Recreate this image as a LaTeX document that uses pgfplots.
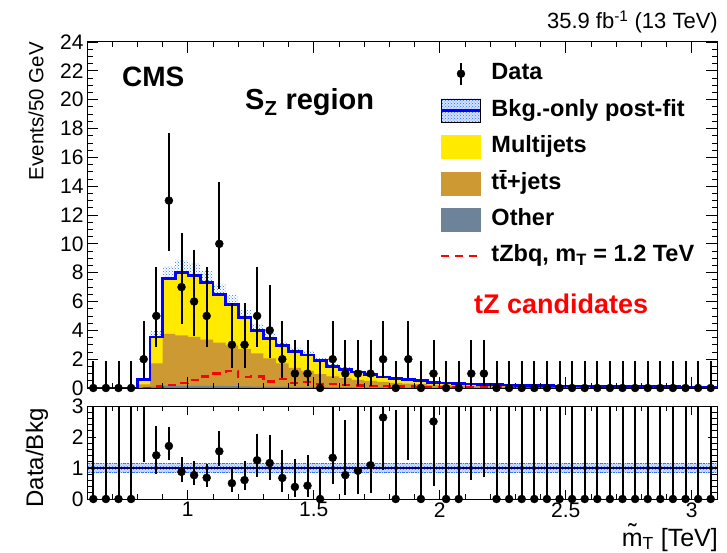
\documentclass[border=0pt]{standalone}
\usepackage{fontspec}
\setmainfont{Liberation Sans}
\usepackage{pgfplots}
\pgfplotsset{compat=1.18}
\usepackage{pgfplotstable}
\usepgfplotslibrary{fillbetween}
\usetikzlibrary{patterns}

\definecolor{mjyellow}{RGB}{255,234,0}
\definecolor{ttbrown}{RGB}{204,153,51}
\definecolor{othgray}{RGB}{108,131,153}
\definecolor{bandblue}{RGB}{40,110,255}
\definecolor{navyline}{RGB}{0,0,110}

\pgfplotstableread{
x tot ttoth oth sig up lo
0.60 0 0 0 0 0 0
0.65 0 0 0 0 0 0
0.70 0 0 0 0 0 0
0.75 0 0 0 0 0 0
0.80 0.60 0.25 0.05 0.02 0.67 0.53
0.85 3.55 1.70 0.10 0.10 3.94 3.16
0.90 7.60 3.75 0.15 0.20 8.44 6.76
0.95 8.00 3.65 0.15 0.35 8.88 7.12
1.00 7.80 3.55 0.15 0.55 8.66 6.94
1.05 7.30 3.35 0.15 0.80 8.10 6.50
1.10 6.50 3.15 0.15 1.00 7.22 5.79
1.15 5.80 2.95 0.13 1.20 6.44 5.16
1.20 4.90 2.70 0.12 0.75 5.44 4.36
1.25 4.00 2.40 0.10 0.80 4.44 3.56
1.30 3.45 2.05 0.10 0.45 3.83 3.07
1.35 2.95 1.70 0.10 0.60 3.27 2.63
1.40 2.55 1.40 0.08 0.35 2.83 2.27
1.45 2.30 1.18 0.08 0.40 2.55 2.05
1.50 1.90 0.97 0.07 0.30 2.11 1.69
1.55 1.50 0.80 0.06 0.25 1.67 1.34
1.60 1.30 0.68 0.06 0.22 1.44 1.16
1.65 1.10 0.57 0.05 0.18 1.22 0.98
1.70 0.92 0.50 0.05 0.15 1.02 0.82
1.75 0.76 0.42 0.04 0.12 0.84 0.68
1.80 0.64 0.36 0.04 0.10 0.71 0.57
1.85 0.57 0.31 0.03 0.10 0.63 0.51
1.90 0.50 0.27 0.03 0.08 0.56 0.45
1.95 0.40 0.22 0.03 0.07 0.44 0.36
2.00 0.36 0.19 0.02 0.06 0.40 0.32
2.05 0.32 0.17 0.02 0.05 0.36 0.28
2.10 0.28 0.15 0.02 0.05 0.31 0.25
2.15 0.25 0.13 0.02 0.04 0.28 0.22
2.20 0.23 0.12 0.02 0.04 0.26 0.20
2.25 0.21 0.11 0.02 0.035 0.23 0.19
2.30 0.19 0.10 0.015 0.03 0.21 0.17
2.35 0.18 0.095 0.015 0.03 0.20 0.16
2.40 0.165 0.09 0.015 0.025 0.18 0.15
2.45 0.15 0.08 0.01 0.025 0.17 0.13
2.50 0.14 0.075 0.01 0.02 0.16 0.12
2.55 0.13 0.07 0.01 0.02 0.14 0.12
2.60 0.12 0.065 0.01 0.02 0.13 0.11
2.65 0.11 0.06 0.01 0.015 0.12 0.10
2.70 0.105 0.055 0.01 0.015 0.12 0.09
2.75 0.10 0.05 0.01 0.015 0.11 0.09
2.80 0.095 0.05 0.01 0.01 0.11 0.08
2.85 0.09 0.045 0.01 0.01 0.10 0.08
2.90 0.085 0.045 0.01 0.01 0.09 0.08
2.95 0.08 0.04 0.01 0.01 0.09 0.07
3.00 0.075 0.04 0.01 0.01 0.08 0.07
3.05 0.07 0.035 0.01 0.01 0.08 0.06
3.10 0.07 0.035 0.01 0.01 0.08 0.06
}\bkg

\pgfplotstableread{
x n ep em
0.625 0 1.84 0
0.675 0 1.84 0
0.725 0 1.84 0
0.775 0 1.84 0
0.825 2 2.64 1.29
0.875 5 3.38 2.16
0.925 13 4.70 3.53
0.975 7 3.77 2.58
1.025 6 3.58 2.38
1.075 5 3.38 2.16
1.125 10 4.27 3.11
1.175 3 2.92 1.63
1.225 3 2.92 1.63
1.275 5 3.38 2.16
1.325 4 3.16 1.91
1.375 2 2.64 1.29
1.425 1 2.30 0.83
1.475 1 2.30 0.83
1.525 0 1.84 0
1.575 2 2.64 1.29
1.625 1 2.30 0.83
1.675 1 2.30 0.83
1.725 1 2.30 0.83
1.775 2 2.64 1.29
1.825 0 1.84 0
1.875 2 2.64 1.29
1.925 0 1.84 0
1.975 1 2.30 0.83
2.025 0 1.84 0
2.075 0 1.84 0
2.125 1 2.30 0.83
2.175 1 2.30 0.83
2.225 0 1.84 0
2.275 0 1.84 0
2.325 0 1.84 0
2.375 0 1.84 0
2.425 0 1.84 0
2.475 0 1.84 0
2.525 0 1.84 0
2.575 0 1.84 0
2.625 0 1.84 0
2.675 0 1.84 0
2.725 0 1.84 0
2.775 0 1.84 0
2.825 0 1.84 0
2.875 0 1.84 0
2.925 0 1.84 0
2.975 0 1.84 0
3.025 0 1.84 0
3.075 0 1.84 0
}\data

\pgfplotstableread{
x r ep em
0.625 0 10 0
0.675 0 10 0
0.725 0 10 0
0.775 0 10 0
0.825 3.33 4.40 2.15
0.875 1.41 0.95 0.61
0.925 1.71 0.62 0.46
0.975 0.875 0.47 0.32
1.025 0.77 0.46 0.31
1.075 0.685 0.46 0.30
1.125 1.54 0.66 0.48
1.175 0.51 0.49 0.28
1.225 0.61 0.60 0.33
1.275 1.25 0.845 0.54
1.325 1.16 0.92 0.55
1.375 0.68 0.89 0.44
1.425 0.39 0.90 0.32
1.475 0.43 1.00 0.36
1.525 0 0.97 0
1.575 1.33 1.76 0.86
1.625 0.77 1.77 0.64
1.675 0.91 2.09 0.75
1.725 1.09 2.50 0.90
1.775 2.63 3.47 1.70
1.825 0 2.88 0
1.875 3.51 4.60 2.26
1.925 0 3.68 0
1.975 2.50 5.75 2.07
2.025 0 5.10 0
2.075 0 5.75 0
2.125 3.57 8.20 2.95
2.175 4.00 9.20 3.30
2.225 0 10 0
2.275 0 10 0
2.325 0 10 0
2.375 0 10 0
2.425 0 10 0
2.475 0 10 0
2.525 0 10 0
2.575 0 10 0
2.625 0 10 0
2.675 0 10 0
2.725 0 10 0
2.775 0 10 0
2.825 0 10 0
2.875 0 10 0
2.925 0 10 0
2.975 0 10 0
3.025 0 10 0
3.075 0 10 0
}\ratio

\pgfplotstableread{
x r
0.625 0
0.675 0
0.725 0
0.775 0
0.875 1.41
0.925 1.71
0.975 0.875
1.025 0.77
1.075 0.685
1.125 1.54
1.175 0.51
1.225 0.61
1.275 1.25
1.325 1.16
1.375 0.68
1.425 0.39
1.475 0.43
1.525 0
1.575 1.33
1.625 0.77
1.675 0.91
1.725 1.09
1.775 2.63
1.825 0
1.925 0
1.975 2.50
2.025 0
2.075 0
2.225 0
2.275 0
2.325 0
2.375 0
2.425 0
2.475 0
2.525 0
2.575 0
2.625 0
2.675 0
2.725 0
2.775 0
2.825 0
2.875 0
2.925 0
2.975 0
3.025 0
3.075 0
}\ratiomk

\pgfplotsset{
  rootaxis/.style={
    scale only axis, width=630pt,
    xmin=0.6, xmax=3.1,
    xtick={1,1.5,2,2.5,3},
    minor xtick={0.6,0.7,...,3.1},
    tick align=inside, tick pos=both,
    axis line style={line width=1pt},
    every tick/.style={black, line width=0.8pt},
    tick label style={font=\fontsize{21}{25}\selectfont},
    /pgf/number format/assume math mode=true,
    axis on top,
  }
}

\begin{document}
\begin{tikzpicture}

\begin{axis}[rootaxis,
  at={(87pt,164pt)}, anchor=south west,
  height=346pt,
  ymin=0, ymax=24,
  ytick={0,2,...,24}, minor ytick={0,0.5,...,24},
  xticklabels={},
  major tick length=11pt, minor tick length=5.5pt,
  legend style={at={(0.5603,0.9436)}, anchor=north west, draw=none, fill=none,
    font=\fontsize{23.5}{28}\selectfont\bfseries, row sep=13pt, column sep=0pt,
    inner sep=0pt, nodes={inner sep=0pt, text height=17pt, text depth=5pt}},
  legend cell align=left,
]
\addplot[fill=mjyellow, draw=none, const plot, forget plot] table[x=x,y=tot]{\bkg} \closedcycle;
\addplot[fill=ttbrown, draw=none, const plot, forget plot] table[x=x,y=ttoth]{\bkg} \closedcycle;
\addplot[fill=othgray, draw=none, const plot, forget plot] table[x=x,y=oth]{\bkg} \closedcycle;
\addplot[name path=bup, draw=none, const plot, forget plot] table[x=x,y=up]{\bkg};
\addplot[name path=blo, draw=none, const plot, forget plot] table[x=x,y=lo]{\bkg};
\addplot[pattern=crosshatch dots, pattern color=bandblue, draw=none, forget plot] fill between[of=bup and blo];
\addplot[red, dash pattern=on 8pt off 6pt, line width=2.2pt, const plot, forget plot] table[x=x,y=sig]{\bkg};
\addplot[blue, line width=2.6pt, const plot, forget plot] table[x=x,y=tot]{\bkg};
\addplot[only marks, mark=*, mark size=4pt, black, forget plot,
  error bars/.cd, y dir=both, y explicit, error mark=none,
  error bar style={line width=2pt, black}]
  table[x=x, y=n, y error plus=ep, y error minus=em]{\data};

\addlegendimage{legend image code/.code={
  \path[draw=none, fill=none] (0pt,-11.5pt) rectangle (50pt,11.5pt);
  \draw[black, line width=2pt] (19.5pt,-11pt) -- (19.5pt,11pt);
  \fill[black] (19.5pt,0pt) circle (4pt);}}
\addlegendentry{Data}
\addlegendimage{legend image code/.code={
  \path[draw=none, fill=none] (0pt,-11.5pt) rectangle (50pt,11.5pt);
  \fill[bandblue!20] (0pt,-11.5pt) rectangle (39pt,11.5pt);
  \fill[pattern=crosshatch dots, pattern color=bandblue] (0pt,-11.5pt) rectangle (39pt,11.5pt);
  \draw[blue, line width=2.6pt] (0pt,0pt) -- (39pt,0pt);}}
\addlegendentry{Bkg.-only post-fit}
\addlegendimage{legend image code/.code={
  \path[draw=none, fill=none] (0pt,-11.5pt) rectangle (50pt,11.5pt);
  \fill[mjyellow] (0pt,-11.5pt) rectangle (39pt,11.5pt);}}
\addlegendentry{Multijets}
\addlegendimage{legend image code/.code={
  \path[draw=none, fill=none] (0pt,-11.5pt) rectangle (50pt,11.5pt);
  \fill[ttbrown] (0pt,-11.5pt) rectangle (39pt,11.5pt);}}
\addlegendentry{t\={t}+jets}
\addlegendimage{legend image code/.code={
  \path[draw=none, fill=none] (0pt,-11.5pt) rectangle (50pt,11.5pt);
  \fill[othgray] (0pt,-11.5pt) rectangle (39pt,11.5pt);}}
\addlegendentry{Other}
\addlegendimage{legend image code/.code={
  \path[draw=none, fill=none] (0pt,-11.5pt) rectangle (50pt,11.5pt);
  \draw[red, dash pattern=on 8pt off 6pt, line width=2.2pt] (0pt,0pt) -- (39pt,0pt);}}
\addlegendentry{tZbq, m\textsubscript{T} = 1.2 TeV}
\end{axis}

\begin{axis}[rootaxis,
  at={(87pt,53pt)}, anchor=south west,
  height=93pt,
  ymin=0, ymax=3,
  ytick={0,1,2,3}, minor ytick={0,0.2,...,3},
  xticklabels={1,1.5,2,2.5,3},
  major tick length=9pt, minor tick length=5pt,
]
\addplot[name path=rlo, draw=bandblue, densely dotted, line width=0.8pt, forget plot] coordinates {(0.6,0.85) (3.1,0.85)};
\addplot[name path=rup, draw=bandblue, densely dotted, line width=0.8pt, forget plot] coordinates {(0.6,1.15) (3.1,1.15)};
\addplot[fill=bandblue!20, draw=none, forget plot] fill between[of=rlo and rup];
\addplot[pattern=crosshatch dots, pattern color=bandblue, draw=none, forget plot] fill between[of=rlo and rup];
\addplot[navyline, line width=1.6pt, forget plot] coordinates {(0.6,1) (3.1,1)};
\addplot[only marks, mark=none, black, forget plot,
  error bars/.cd, y dir=both, y explicit, error mark=none,
  error bar style={line width=2pt, black}]
  table[x=x, y=r, y error plus=ep, y error minus=em]{\ratio};
\addplot[only marks, mark=*, mark size=4pt, black, forget plot] table[x=x, y=r]{\ratiomk};
\end{axis}

\node[rotate=90, anchor=east, inner sep=0pt, font=\fontsize{20.5}{24}\selectfont] at (36pt,510pt) {Events/50 GeV};
\node[rotate=90, inner sep=0pt, font=\fontsize{24}{28}\selectfont] at (37pt,94pt) {Data/Bkg};
\node[anchor=base east, inner sep=0pt, font=\fontsize{25}{30}\selectfont] at (718pt,6pt) {\~{m}\textsubscript{T} [TeV]};
\node[anchor=base east, inner sep=0pt, font=\fontsize{22}{26}\selectfont] at (718pt,523pt) {35.9 fb\textsuperscript{-1} (13 TeV)};
\node[anchor=base west, inner sep=0pt, font=\fontsize{28}{34}\selectfont\bfseries] at (122pt,465pt) {CMS};
\node[anchor=base west, inner sep=0pt, font=\fontsize{29}{34}\selectfont\bfseries] at (245pt,442pt) {S\textsubscript{Z} region};
\node[anchor=base west, inner sep=0pt, text=red, font=\fontsize{27}{32}\selectfont\bfseries] at (474pt,239pt) {tZ candidates};
\path (0pt,0pt) rectangle (727pt,552pt);
\end{tikzpicture}
\end{document}
